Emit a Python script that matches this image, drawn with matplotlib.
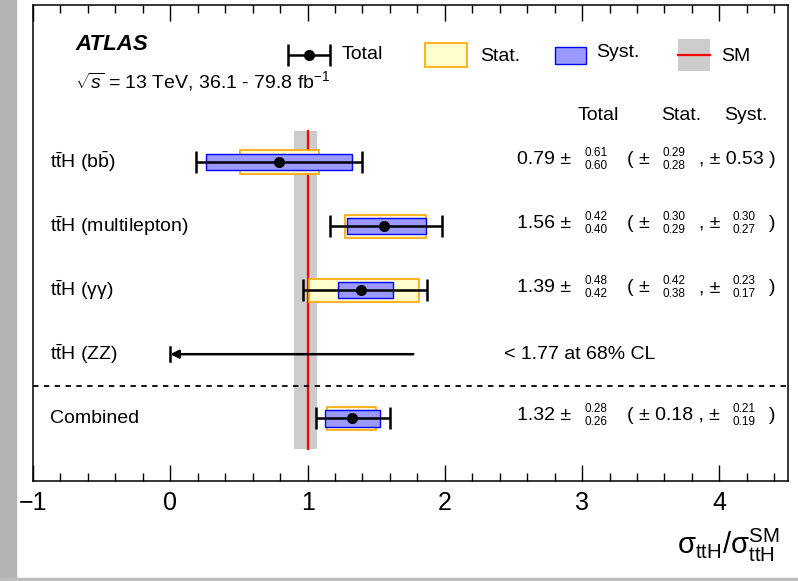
import matplotlib.pyplot as plt
import numpy as np
from matplotlib.patches import Rectangle

plt.rcParams['font.family'] = ['Liberation Sans', 'DejaVu Sans']
plt.rcParams['mathtext.fontset'] = 'custom'
plt.rcParams['mathtext.rm'] = 'Liberation Sans'
plt.rcParams['mathtext.it'] = 'Liberation Sans:italic'
plt.rcParams['mathtext.bf'] = 'Liberation Sans:bold'

# channels, top to bottom
labels = [r'$\mathrm{t\bar{t}H}$ (b$\mathrm{\bar{b}}$)',
          r'$\mathrm{t\bar{t}H}$ (multilepton)',
          r'$\mathrm{t\bar{t}H}$ (γγ)',
          r'$\mathrm{t\bar{t}H}$ (ZZ)',
          'Combined']
mu = [0.79, 1.56, 1.39, None, 1.32]
tot_up = [0.61, 0.42, 0.48, None, 0.28]
tot_dn = [0.60, 0.40, 0.42, None, 0.26]
stat_up = [0.29, 0.30, 0.42, None, 0.18]
stat_dn = [0.28, 0.29, 0.38, None, 0.18]
syst_up = [0.53, 0.30, 0.23, None, 0.21]
syst_dn = [0.53, 0.27, 0.17, None, 0.19]
zz_limit = 1.77
sm_lo, sm_hi = 0.90, 1.07

fig = plt.figure(figsize=(7.98, 5.81), dpi=100)
ax = fig.add_axes([0.0414, 0.172, 0.9461, 0.8194])

# page border bits
fig.patches.append(Rectangle((0, 0), 16/798, 1, transform=fig.transFigure,
                             color='#b4b4b4', zorder=-5))
fig.patches.append(Rectangle((0, 0), 1, 3/581, transform=fig.transFigure,
                             color='#bdbdbd', zorder=-5))

n = len(labels)
ys = np.arange(n)[::-1]

# SM band + line
ax.fill_betweenx([-0.48, 4.48], sm_lo, sm_hi, color='#cccccc', lw=0, zorder=1)
ax.plot([1, 1], [-0.48, 4.48], color='red', lw=1.6, zorder=2)

# separator
ax.axhline(0.5, color='black', ls=(0, (3, 3)), lw=1.3, zorder=2)

hs, hy = 0.18, 0.13
for i, y in enumerate(ys):
    ax.text(-0.876, y, labels[i], fontsize=14, va='center', ha='left')
    if mu[i] is None:
        ax.annotate('', xy=(0, y), xytext=(zz_limit, y),
                    arrowprops=dict(arrowstyle='-|>', color='black', lw=1.8,
                                    mutation_scale=12, shrinkA=0, shrinkB=0),
                    zorder=4)
        ax.plot([0, 0], [y - 0.11, y + 0.11], color='black', lw=1.8, zorder=4)
        ax.text(2.43, y, '< %.2f at 68%% CL' % zz_limit, fontsize=14,
                va='center', ha='left')
        continue
    m = mu[i]
    ax.add_patch(Rectangle((m - stat_dn[i], y - hs), stat_dn[i] + stat_up[i], 2*hs,
                           facecolor='#ffffcc', edgecolor='#ffa500', lw=1.2, zorder=3))
    ax.add_patch(Rectangle((m - syst_dn[i], y - hy), syst_dn[i] + syst_up[i], 2*hy,
                           facecolor='#9999ff', edgecolor='#0000ff', lw=1.0, zorder=3))
    ax.errorbar([m], [y], xerr=[[tot_dn[i]], [tot_up[i]]], fmt='o', color='black',
                ms=7, lw=1.8, capsize=8, capthick=1.8, zorder=5)

    # numbers
    ty = y + 0.04
    ax.text(2.92, ty, '%.2f ±' % m, fontsize=14, ha='right', va='center')
    ax.text(3.10, ty + 0.1, '%.2f' % tot_up[i], fontsize=8.5, ha='center', va='center')
    ax.text(3.10, ty - 0.1, '%.2f' % tot_dn[i], fontsize=8.5, ha='center', va='center')
    if stat_up[i] == stat_dn[i]:
        ax.text(3.33, ty, '( ± %.2f , ±' % stat_up[i], fontsize=14, ha='left', va='center')
    else:
        ax.text(3.33, ty, '( ±', fontsize=14, ha='left', va='center')
        ax.text(3.67, ty + 0.1, '%.2f' % stat_up[i], fontsize=8.5, ha='center', va='center')
        ax.text(3.67, ty - 0.1, '%.2f' % stat_dn[i], fontsize=8.5, ha='center', va='center')
        ax.text(3.85, ty, ', ±' if syst_up[i] != syst_dn[i] else ', ± %.2f )' % syst_up[i],
                fontsize=14, ha='left', va='center')
    if syst_up[i] != syst_dn[i]:
        ax.text(4.18, ty + 0.1, '%.2f' % syst_up[i], fontsize=8.5, ha='center', va='center')
        ax.text(4.18, ty - 0.1, '%.2f' % syst_dn[i], fontsize=8.5, ha='center', va='center')
        ax.text(4.36, ty, ')', fontsize=14, ha='left', va='center')

# column headers
for xx, t in zip([3.12, 3.72, 4.19], ['Total', 'Stat.', 'Syst.']):
    ax.text(xx, 4.72, t, fontsize=14, ha='center', va='center')

# ATLAS label
ax.text(-0.693, 5.83, 'ATLAS', fontsize=16, fontweight='bold', fontstyle='italic',
        ha='left', va='center')
ax.text(-0.693, 5.27, r'$\sqrt{s}$ = 13 TeV, 36.1 - 79.8 fb$^{-1}$', fontsize=14,
        ha='left', va='center')

# legend drawn by hand
ly = 5.67
ax.errorbar([1.01], [ly], xerr=[[0.15], [0.15]], fmt='o', color='black', ms=7,
            lw=1.8, capsize=8, capthick=1.8, clip_on=False)
ax.text(1.25, ly, 'Total', fontsize=14, ha='left', va='center')
ax.add_patch(Rectangle((1.854, 5.48), 0.306, 0.38, facecolor='#ffffcc',
                       edgecolor='#ffa500', lw=1.2))
ax.text(2.26, ly - 0.02, 'Stat.', fontsize=14, ha='left', va='center')
ax.add_patch(Rectangle((2.80, 5.53), 0.23, 0.27, facecolor='#9999ff',
                       edgecolor='#0000ff', lw=1.0))
ax.text(3.10, ly + 0.04, 'Syst.', fontsize=14, ha='left', va='center')
ax.add_patch(Rectangle((3.70, 5.42), 0.23, 0.50, facecolor='#cccccc', lw=0))
ax.plot([3.70, 3.93], [ly, ly], color='red', lw=1.6)
ax.text(4.01, ly - 0.02, 'SM', fontsize=14, ha='left', va='center')

ax.set_xlim(-1, 4.5)
ax.set_ylim(-0.98, 6.45)
ax.set_xticks([-1, 0, 1, 2, 3, 4])
ax.set_xticklabels(['−1', '0', '1', '2', '3', '4'])
ax.set_xticks(np.arange(-1, 4.5, 0.2), minor=True)
ax.set_yticks([])
ax.tick_params(axis='x', which='both', direction='in', top=True, labelsize=18,
               width=1.0, pad=7)
ax.tick_params(axis='x', which='major', length=11.5)
ax.tick_params(axis='x', which='minor', length=5.8)
for s in ax.spines.values():
    s.set_linewidth(1.1)

fig.text(0.977, 0.03,
         r'$\mathrm{σ}_{\mathrm{ttH}}/\mathrm{σ}_{\mathrm{ttH}}^{\mathrm{SM}}$',
         fontsize=21, ha='right', va='bottom')

fig.savefig('out.png', dpi=100)
